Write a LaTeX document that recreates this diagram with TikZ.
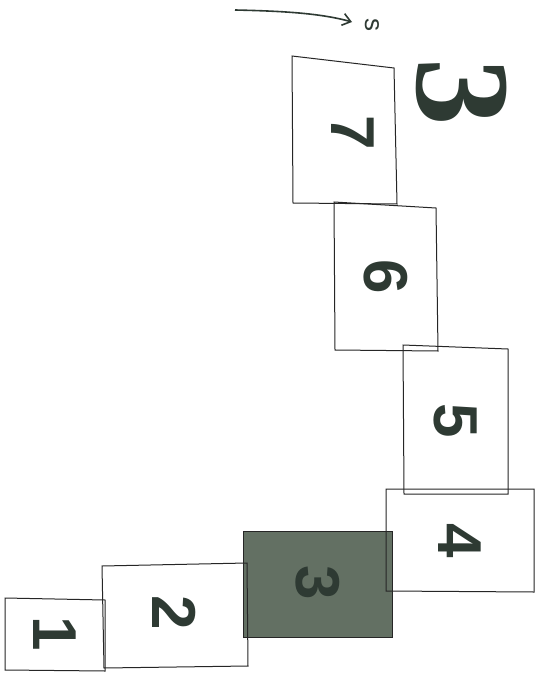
\documentclass[tikz,border=0pt]{standalone}
\usepackage{fontspec}
\usetikzlibrary{arrows.meta}
\setmainfont{Liberation Sans}
\newfontfamily\bigfont{Liberation Serif}
\begin{document}
\begin{tikzpicture}[x=1pt,y=-1pt,
  boxline/.style={draw=black!85, line width=1pt},
  digit/.style={text=digitcol, font=\bfseries\fontsize{62}{62}\selectfont, rotate=-90, inner sep=0pt},
  filledbox/.style={boxline, fill=boxfill}]
\definecolor{digitcol}{HTML}{2E3A33}
\definecolor{boxfill}{HTML}{637063}
\useasboundingbox (0,0) rectangle (541,674);
\fill[white] (0,0) rectangle (541,674);
% box 3 (filled)
\draw[filledbox] (243,531) -- (392,531) -- (392,637) -- (243,637) -- cycle;
% box 1
\draw[boxline] (5,598) -- (105,600) -- (105,671) -- (5,670) -- cycle;
% box 2
\draw[boxline] (102,566) -- (247,563) -- (248,666) -- (104,668) -- cycle;
% box 4
\draw[boxline] (386,489) -- (534,489) -- (534,592) -- (386,591) -- cycle;
% box 5
\draw[boxline] (403,345) -- (508,349) -- (508,494) -- (404,494) -- cycle;
% box 6
\draw[boxline] (334,202) -- (436,208) -- (438,351) -- (335,350) -- cycle;
% box 7
\draw[boxline] (292,56) -- (394,68) -- (397,204) -- (293,203) -- cycle;
% digits
\node[digit] (d1) at (55,634) {1};
\node[digit] (d2) at (174,613) {2};
\node[digit] (d3) at (318,583) {3};
\node[digit] (d4) at (460,541) {4};
\node[digit] (d5) at (456,421) {5};
\node[digit] (d6) at (386,277) {6};
\node[digit] (d7) at (353,133) {7};
% big 3 and s
\node[text=digitcol, font=\bigfont\bfseries\fontsize{135}{135}\selectfont, rotate=-90, inner sep=0pt] (big) at (462,92) {3};
\node[text=digitcol, font=\fontsize{26}{26}\selectfont, rotate=-90, inner sep=0pt] (s) at (372,25) {s};
\coordinate (astart) at (235,10);
\coordinate (aend) at (352,22);
\draw[line width=1.6pt, draw=digitcol, -{Straight Barb[length=8pt,width=12pt]}] (astart) .. controls (280,11) and (320,13) .. (aend);
\end{tikzpicture}
\end{document}
